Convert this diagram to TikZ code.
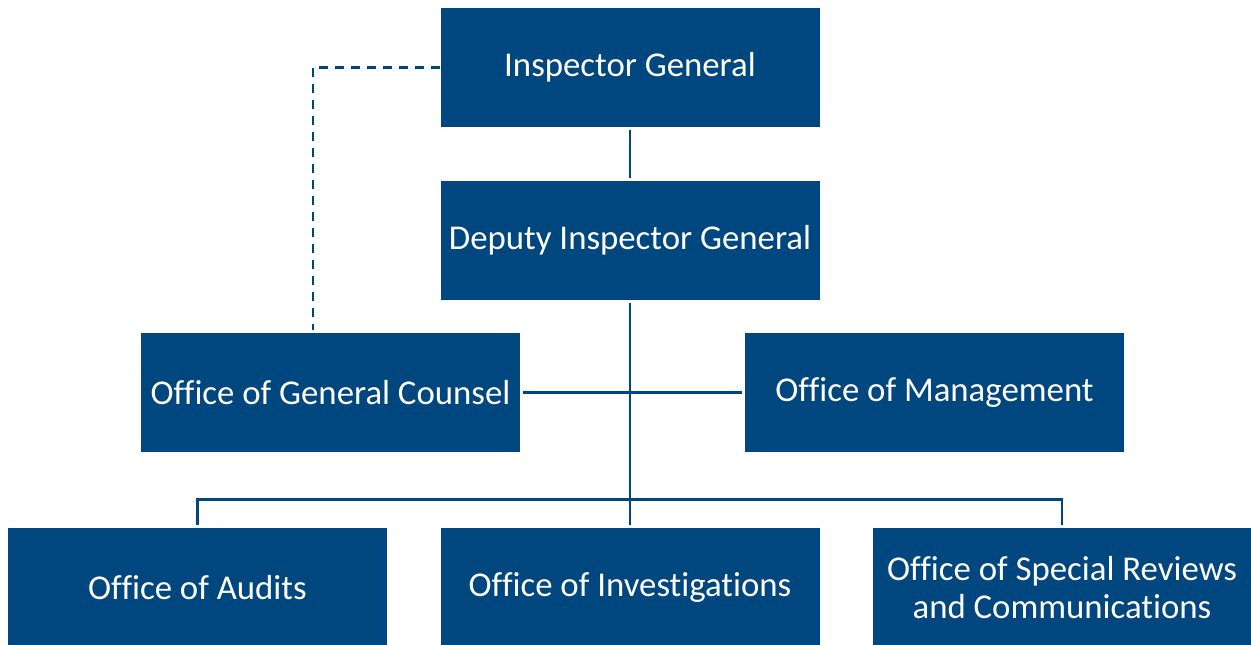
\documentclass[tikz,border=0pt]{standalone}
\usepackage{fontspec}
\setmainfont{Carlito}[Ligatures=NoCommon]
\definecolor{navy}{RGB}{0,70,127}
\begin{document}
\begin{tikzpicture}[x=1pt,y=-1pt,
  box/.style={fill=navy,text=white,minimum width=379pt,minimum height=119pt,inner sep=0pt,align=center,font=\fontsize{34.8}{38.5}\selectfont},
  conn/.style={draw=navy,line width=2.8pt},
  dconn/.style={conn,dash pattern=on 9pt off 7pt}]
\useasboundingbox (0,0) rectangle (1251,645);
\node[box] (ig) at (630,67.5) {Inspector General};
\node[box] (dig) at (630,240.5) {Deputy Inspector General};
\node[box] (ogc) at (330.5,392.5) {Office of General Counsel};
\node[box] (om) at (934.5,392.5) {Office of Management};
\node[box] (oa) at (197.5,587.5) {Office of Audits};
\node[box] (oi) at (630,587.5) {Office of Investigations};
\node[box] (osr) at (1062,587.5) {Office of Special Reviews\\and Communications};
\draw[conn,shorten <=3pt,shorten >=3pt] (ig.south) -- (dig.north);
\draw[conn,shorten <=3pt,shorten >=3pt] (dig.south) -- (oi.north);
\draw[conn,shorten <=3pt,shorten >=3pt] (ogc.east) -- (om.west);
\draw[conn,shorten <=3pt,shorten >=3pt] (oa.north) -- ++(0,-28) -| (osr.north);
\draw[dconn,shorten >=3pt] (ig.west) -| ([xshift=-17.5pt]ogc.north);
\end{tikzpicture}
\end{document}
